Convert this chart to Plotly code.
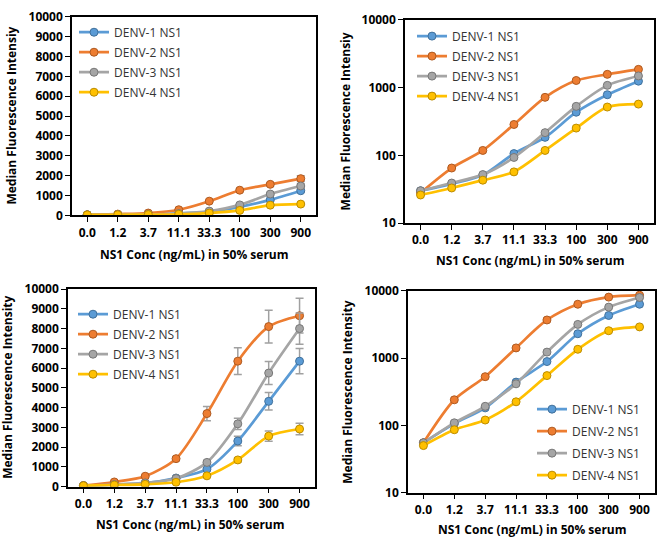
import plotly.graph_objects as go

conc = ["0.0", "1.2", "3.7", "11.1", "33.3", "100", "300", "900"]
series_names = ["DENV-1 NS1", "DENV-2 NS1", "DENV-3 NS1", "DENV-4 NS1"]

# Top row (same data, linear and log)
d1_a = [30, 38, 51, 106, 184, 432, 782, 1240]
d2_a = [28, 65, 118, 285, 716, 1268, 1563, 1850]
d3_a = [30, 39, 52, 93, 216, 527, 1075, 1480]
d4_a = [26, 33, 43, 57, 118, 252, 515, 569]
e1_a = [2, 3, 4, 8, 15, 30, 50, 80]
e2_a = [2, 5, 8, 15, 30, 60, 80, 150]
e3_a = [2, 3, 4, 8, 15, 40, 60, 100]
e4_a = [2, 3, 3, 5, 10, 20, 30, 40]

# Bottom row (same data, linear and log)
d1_b = [55, 106, 182, 440, 890, 2310, 4320, 6350]
d2_b = [55, 240, 530, 1420, 3700, 6350, 8100, 8650]
d3_b = [55, 109, 192, 415, 1230, 3180, 5750, 8000]
d4_b = [50, 86, 120, 224, 550, 1355, 2560, 2920]
e1_b = [5, 10, 15, 40, 80, 240, 440, 640]
e2_b = [5, 20, 50, 100, 360, 680, 830, 880]
e3_b = [5, 10, 20, 40, 100, 280, 580, 790]
e4_b = [5, 8, 10, 20, 50, 90, 260, 290]

line_colors = ["#5B9BD5", "#ED7D31", "#A5A5A5", "#FFC000"]
edge_colors = ["#41719C", "#AE5A21", "#787878", "#BC8C00"]

FONT = "Open Sans"
fig = go.Figure()

panels = [
    ("x", "y", "legend", [d1_a, d2_a, d3_a, d4_a], [e1_a, e2_a, e3_a, e4_a]),
    ("x2", "y2", "legend2", [d1_a, d2_a, d3_a, d4_a], None),
    ("x3", "y3", "legend3", [d1_b, d2_b, d3_b, d4_b], [e1_b, e2_b, e3_b, e4_b]),
    ("x4", "y4", "legend4", [d1_b, d2_b, d3_b, d4_b], None),
]

for xa, ya, lg, data, errs in panels:
    for i, (name, vals) in enumerate(zip(series_names, data)):
        kw = {}
        if errs is not None:
            kw["error_y"] = dict(type="data", array=errs[i], visible=True,
                                 color="#A0A0A0", thickness=1.5, width=4)
        fig.add_trace(go.Scatter(
            x=conc, y=vals, name=name, mode="lines+markers",
            line=dict(color=line_colors[i], width=2.7, shape="spline", smoothing=0.8),
            marker=dict(size=8, color=line_colors[i],
                        line=dict(color=edge_colors[i], width=1)),
            xaxis=xa, yaxis=ya, legend=lg, legendgroup=f"{lg}_{i}", **kw))

W, H = 660, 548
boxes = {
    "1": (72, 316, 8, 213),
    "2": (405, 654, 11, 221),
    "3": (68, 315, 289, 493),
    "4": (408, 655, 291, 499),
}

def xdom(b):
    return [b[0] / W, b[1] / W]

def ydom(b):
    return [1 - b[3] / H, 1 - b[2] / H]

tickfont = dict(family=FONT, size=12, color="#000000", weight="bold")
axis_common = dict(showline=True, linecolor="#000000", linewidth=1.5, mirror=True,
                   ticks="outside", ticklen=5, tickcolor="#000000", tickwidth=1,
                   showgrid=False, zeroline=False, tickfont=tickfont)

layout = dict(
    width=W, height=H, margin=dict(l=0, r=0, t=0, b=0),
    paper_bgcolor="white", plot_bgcolor="white", showlegend=True,
)
for k, b in boxes.items():
    xk = "xaxis" if k == "1" else "xaxis" + k
    yk = "yaxis" if k == "1" else "yaxis" + k
    yref = "y" if k == "1" else "y" + k
    xref = "x" if k == "1" else "x" + k
    layout[xk] = dict(domain=xdom(b), anchor=yref, type="category",
                      range=[-0.5, 7.5], **axis_common)
    if k in ("2", "4"):
        layout[yk] = dict(domain=ydom(b), anchor=xref, type="log", range=[1, 4],
                          tickvals=[10, 100, 1000, 10000],
                          ticktext=["10", "100", "1000", "10000"], **axis_common)
    else:
        layout[yk] = dict(domain=ydom(b), anchor=xref, range=[0, 10000],
                          dtick=1000, tickformat="d", **axis_common)

leg_font = dict(family=FONT, size=12, color="#333333")
leg_pos = {"legend": (74, 9, 1), "legend2": (412, 13, 1),
           "legend3": (73, 300, 1), "legend4": (532, 398, 3)}
for lg, (px, py, gap) in leg_pos.items():
    layout[lg] = dict(x=px / W, y=1 - py / H, xanchor="left", yanchor="top",
                      bgcolor="rgba(0,0,0,0)", font=leg_font, itemwidth=30,
                      tracegroupgap=gap)

fig.update_layout(**layout)

title_font = dict(family=FONT, size=12, color="#000000", weight="bold")
xtitle = "NS1 Conc (ng/mL) in 50% serum"
ann = [
    (194, 253, xtitle, 0),
    (530, 260, xtitle, 0),
    (191, 532, xtitle, 0),
    (532, 537, xtitle, 0),
    (12, 110, "Median Fluorescence Intensiy", -90),
    (345, 116, "Median Fluorescence Intensiy", -90),
    (8, 391, "Median Fluorescence Intensity", -90),
    (348, 395, "Median Fluorescence Intensity", -90),
]
for px, py, txt, rot in ann:
    fig.add_annotation(x=px / W, y=1 - py / H, xref="paper", yref="paper",
                       text=txt, showarrow=False, textangle=rot,
                       xanchor="center", yanchor="middle", font=title_font)

fig.write_html("out.html", config={"displayModeBar": False},
               post_script="document.body.style.margin='0';document.body.style.padding='0';")
